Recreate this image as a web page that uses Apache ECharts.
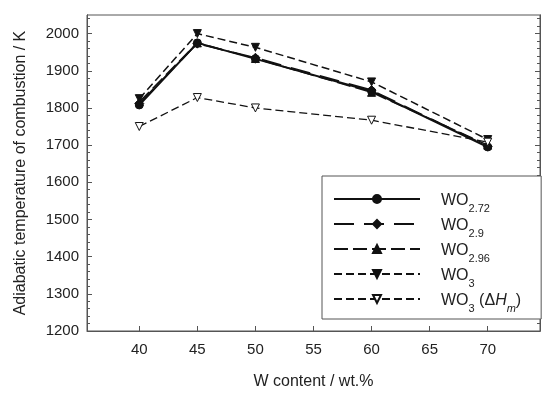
<!DOCTYPE html>
<html>
<head>
<meta charset="utf-8">
<script src="https://cdn.jsdelivr.net/npm/echarts@6/dist/echarts.min.js"></script>
<style>html,body{margin:0;padding:0;background:#fff}#c{width:550px;height:397px}</style>
</head>
<body>
<div id="c"></div>
<script>
const xValues = [40, 45, 50, 60, 70];
const wo272 = [1808, 1975, 1932, 1845, 1695];
const wo29 = [1812, 1973, 1935, 1848, 1697];
const wo296 = [1816, 1975, 1933, 1842, 1700];
const wo3 = [1825, 2000, 1963, 1870, 1715];
const wo3dH = [1750, 1828, 1800, 1767, 1708];
const xTicks = [40, 45, 50, 55, 60, 65, 70];
const yTicks = [1200, 1300, 1400, 1500, 1600, 1700, 1800, 1900, 2000];
const yMinorTicks = [1220, 1240, 1260, 1280, 1320, 1340, 1360, 1380, 1420, 1440, 1460, 1480,
  1520, 1540, 1560, 1580, 1620, 1640, 1660, 1680, 1720, 1740, 1760, 1780,
  1820, 1840, 1860, 1880, 1920, 1940, 1960, 1980, 2020, 2040];
const names = ['WO2.72', 'WO2.9', 'WO2.96', 'WO3', 'WO3dH'];

const pairs = arr => xValues.map((x, i) => [x, arr[i]]);
const font = 'Liberation Sans, Arial, sans-serif';
const ink = '#111';

const legendLabels = {
  'WO2.72': '{a|WO}{s|2.72}',
  'WO2.9': '{a|WO}{s|2.9}',
  'WO2.96': '{a|WO}{s|2.96}',
  'WO3': '{a|WO}{s|3}',
  'WO3dH': '{a|WO}{s|3}{a| (Δ}{i|H}{si|m}{a|)}'
};

function mk(name, data, symbol, lineType, width, opts) {
  return Object.assign({
    name: name,
    type: 'line',
    data: pairs(data),
    symbol: symbol,
    symbolSize: 8,
    lineStyle: { color: ink, width: width, type: lineType },
    itemStyle: { color: ink, borderColor: ink, borderWidth: 1 },
    emphasis: { disabled: true },
    animation: false,
    z: 3
  }, opts || {});
}

function yAx(position, values, len, withLabels) {
  const ax = {
    type: 'value', min: 1200, max: 2050, position: position,
    axisLine: { show: true, lineStyle: { color: '#555' } },
    axisTick: { show: true, inside: true, length: len, customValues: values, lineStyle: { color: '#555' } },
    axisLabel: { show: false },
    splitLine: { show: false }
  };
  if (withLabels) {
    ax.name = 'Adiabatic temperature of combustion / K';
    ax.nameLocation = 'middle';
    ax.nameGap = 58;
    ax.nameTextStyle = { fontFamily: font, fontSize: 16, color: '#222' };
    ax.axisLabel = { show: true, customValues: yTicks, formatter: v => String(v), fontFamily: font, fontSize: 15, color: '#222', margin: 8 };
  }
  return ax;
}

const chart = echarts.init(document.getElementById('c'));
chart.setOption({
  animation: false,
  grid: { left: 87, right: 10, top: 15, bottom: 66, show: true, borderColor: '#555', borderWidth: 1, backgroundColor: 'transparent' },
  xAxis: {
    type: 'value', min: 35.5, max: 74.5,
    name: 'W content / wt.%', nameLocation: 'middle', nameGap: 43,
    nameTextStyle: { fontFamily: font, fontSize: 16, color: '#222' },
    axisLine: { show: true, lineStyle: { color: '#555' } },
    axisTick: { show: true, inside: true, length: 5, customValues: xTicks, lineStyle: { color: '#555' } },
    axisLabel: { customValues: xTicks, fontFamily: font, fontSize: 15, color: '#222', margin: 11 },
    splitLine: { show: false }
  },
  yAxis: [
    yAx('left', yTicks, 5, true),
    yAx('right', yTicks, 5, false),
    yAx('left', yMinorTicks, 3, false),
    yAx('right', yMinorTicks, 3, false)
  ],
  legend: {
    orient: 'vertical',
    left: 322, top: 176,
    padding: [17, 20, 5, 11],
    itemWidth: 86, itemHeight: 10, itemGap: 4,
    backgroundColor: '#fff',
    borderColor: '#555', borderWidth: 1,
    data: names,
    formatter: n => legendLabels[n],
    textStyle: {
      fontFamily: font, color: '#222', padding: [0, 0, 0, 16],
      rich: {
        a: { fontFamily: font, fontSize: 16, color: '#222', verticalAlign: 'bottom', lineHeight: 20 },
        s: { fontFamily: font, fontSize: 11, color: '#222', verticalAlign: 'bottom', lineHeight: 14, padding: [0, 0, -5, 0] },
        i: { fontFamily: font, fontSize: 16, fontStyle: 'italic', color: '#222', verticalAlign: 'bottom', lineHeight: 20 },
        si: { fontFamily: font, fontSize: 11, fontStyle: 'italic', color: '#222', verticalAlign: 'bottom', lineHeight: 14, padding: [0, 0, -5, 0] }
      }
    }
  },
  series: [
    mk('WO2.72', wo272, 'circle', 'solid', 2),
    mk('WO2.9', wo29, 'diamond', [20, 10], 1.5, { symbolSize: 9 }),
    mk('WO2.96', wo296, 'triangle', [14, 5], 1.5),
    mk('WO3', wo3, 'triangle', [8, 4], 1.5, { symbolRotate: 180 }),
    mk('WO3dH', wo3dH, 'triangle', [8, 4], 1.3, { symbolRotate: 180, itemStyle: { color: '#fff', borderColor: ink, borderWidth: 1 } })
  ]
});
</script>
</body>
</html>
